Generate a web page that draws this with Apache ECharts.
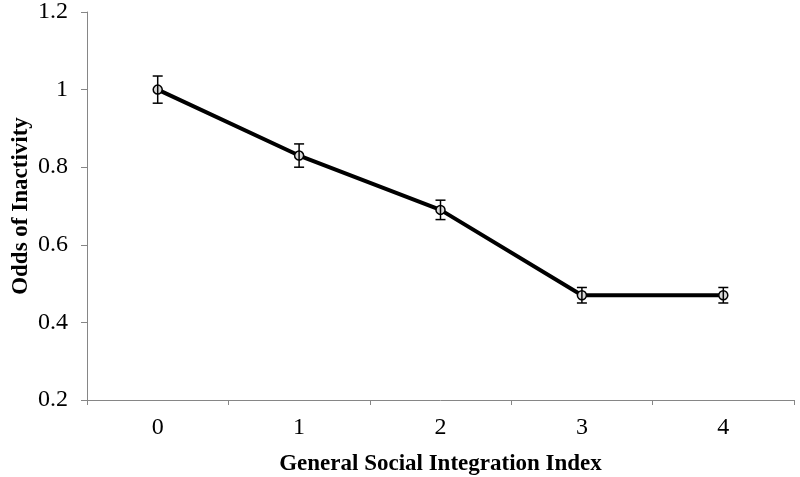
<!DOCTYPE html>
<html>
<head>
<meta charset="utf-8">
<script src="https://cdn.jsdelivr.net/npm/echarts@6/dist/echarts.min.js"></script>
<style>
  html, body { margin: 0; padding: 0; background: #fff; }
  #chart { width: 800px; height: 477px; }
</style>
</head>
<body>
<div id="chart"></div>
<script>
// data
const categories = ['0', '1', '2', '3', '4']
const odds = [1.0, 0.83, 0.69, 0.47, 0.47]
const lower = [0.965, 0.80, 0.665, 0.45, 0.45]
const upper = [1.035, 0.86, 0.715, 0.49, 0.49]

const chart = echarts.init(document.getElementById('chart'))

const serif = 'Liberation Serif'

// error bars: vertical line + caps
const renderErrorBar = (params, api) => {
  const hi = api.coord([api.value(0), api.value(2)])
  const lo = api.coord([api.value(0), api.value(1)])
  const half = 5
  const style = { stroke: '#000', lineWidth: 1.5 }
  return {
    type: 'group',
    children: [
      { type: 'line', shape: { x1: hi[0], y1: hi[1], x2: lo[0], y2: lo[1] }, style },
      { type: 'line', shape: { x1: hi[0] - half, y1: hi[1], x2: hi[0] + half, y2: hi[1] }, style },
      { type: 'line', shape: { x1: lo[0] - half, y1: lo[1], x2: lo[0] + half, y2: lo[1] }, style }
    ]
  }
}

const option = {
  animation: false,
  grid: { left: 87, right: 6, top: 12, bottom: 77, outerBoundsMode: 'none', containLabel: false },
  xAxis: {
    type: 'category',
    data: categories,
    boundaryGap: true,
    name: 'General Social Integration Index',
    nameLocation: 'middle',
    nameGap: 53,
    nameMoveOverlap: false,
    nameTextStyle: { fontFamily: serif, fontWeight: 'bold', fontSize: 23, color: '#000' },
    axisLine: { lineStyle: { color: '#868686', width: 1 } },
    axisTick: { show: true, interval: 0, length: 5, lineStyle: { color: '#868686' } },
    axisLabel: { fontFamily: serif, fontSize: 24, color: '#000', margin: 16 }
  },
  yAxis: {
    type: 'value',
    min: 0.2,
    max: 1.2,
    interval: 0.2,
    name: 'Odds of Inactivity',
    nameLocation: 'middle',
    nameGap: 54,
    nameMoveOverlap: false,
    nameTextStyle: { fontFamily: serif, fontWeight: 'bold', fontSize: 23, color: '#000' },
    axisLine: { show: true, lineStyle: { color: '#868686', width: 1 } },
    axisTick: { show: true, length: 6, lineStyle: { color: '#868686' } },
    splitLine: { show: false },
    axisLabel: {
      fontFamily: serif, fontSize: 24, color: '#000', margin: 19,
      formatter: v => String(Math.round(v * 10) / 10)
    }
  },
  series: [
    {
      type: 'line',
      data: odds,
      symbol: 'circle',
      symbolSize: 9,
      itemStyle: { color: '#d9d9d9', borderColor: '#000', borderWidth: 1.5 },
      lineStyle: { color: '#000', width: 4 },
      z: 2
    },
    {
      type: 'custom',
      renderItem: renderErrorBar,
      data: categories.map((c, i) => [i, lower[i], upper[i]]),
      z: 3
    }
  ]
}

chart.setOption(option)
</script>
</body>
</html>
